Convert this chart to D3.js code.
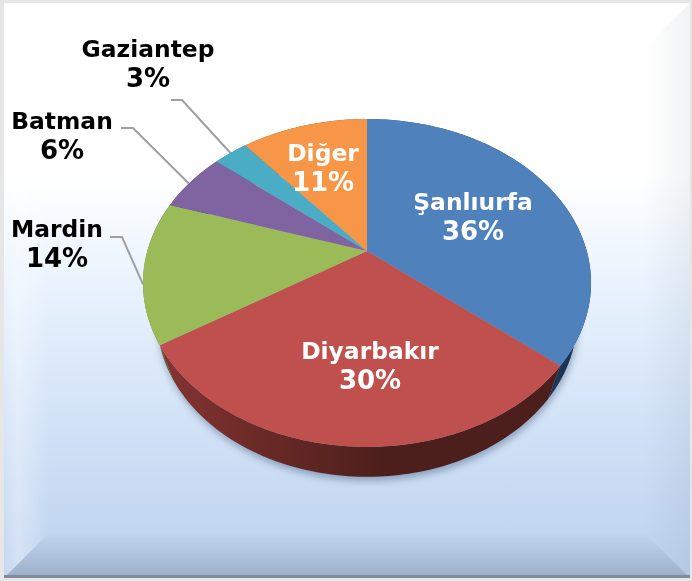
<!DOCTYPE html>
<html>
<head>
<meta charset="utf-8">
<script src="https://cdn.jsdelivr.net/npm/d3@7"></script>
<style>
  html, body { margin: 0; padding: 0; background: #fff; }
  svg { display: block; filter: blur(0.4px); }
  text { font-family: "DejaVu Sans", sans-serif; font-weight: bold; font-size: 23.4px; text-anchor: middle; }
  .pct { font-size: 26px; }
</style>
</head>
<body>
<script>
const cities = ["Şanlıurfa", "Diyarbakır", "Mardin", "Batman", "Gaziantep", "Diğer"];
const shares = [36, 30, 14, 6, 3, 11];
const topColors = ["#4f81bd", "#c0504d", "#9bbb59", "#8064a2", "#4bacc6", "#f79646"];
const wallLight = ["#2a4d78", "#843431", "#6f8a3c", "#5a4674", "#327a8c", "#b36a2e"];
const wallDark = ["#1c3554", "#4d1f1c", "#4c5f28", "#3f3152", "#235663", "#7d4a20"];

const width = 692;
const height = 581;

// where each label sits, plus the leader line for the outside ones
const labelPos = [
  {x: 473, y: 210, fill: "#fff"},
  {x: 370, y: 359, fill: "#fff"},
  {x: 57, y: 237, fill: "#000", knee: [[110, 237], [122, 237]], rimShift: -4.5},
  {x: 62, y: 129, fill: "#000", knee: [[121, 128], [133, 128]], rimShift: -1},
  {x: 148, y: 57, fill: "#000", knee: [[171, 100], [182, 100]], rimShift: 0},
  {x: 323, y: 161, fill: "#fff"}
];
const lineHeight = 29.5;

// the pie is tilted: a circle seen in perspective, so the apex is not the ellipse centre
const tilt = 0.195;
const topFace = {x: 367, y: 251, a: 219.7, b: 157.7};
const baseFace = {x: 367, y: 288, a: 206, b: 152};

function project(face, angle) {
  const X = Math.sin(angle), Y = -Math.cos(angle);
  const w = 1 - tilt * Y;
  return [face.x + face.a * X / w, face.y + face.b * Y / w];
}

function rim(face, a0, a1) {
  const n = Math.max(2, Math.ceil(Math.abs(a1 - a0) / 0.02));
  return d3.range(n + 1).map(i => project(face, a0 + (a1 - a0) * i / n));
}

const line = d3.line();
const pie = d3.pie().sort(null).value(d => d)(shares);

const svg = d3.select("body").append("svg").attr("width", width).attr("height", height);
const defs = svg.append("defs");

function gradient(id, x2, y2, stops) {
  const g = defs.append("linearGradient").attr("id", id)
    .attr("x1", 0).attr("y1", 0).attr("x2", x2).attr("y2", y2);
  stops.forEach(s => g.append("stop").attr("offset", s[0]).attr("stop-color", s[1]).attr("stop-opacity", s[2] === undefined ? 1 : s[2]));
}

gradient("panel", 0, 1, [[0, "#ffffff"], [0.3, "#ffffff"], [0.5, "#e8f2fd"], [0.75, "#d0e1f6"], [1, "#bcd1ed"]]);
gradient("bevel-left", 1, 0, [[0, "#ffffff", 0.12], [0.3, "#ffffff", 0.35], [1, "#ffffff", 0]]);
gradient("bevel-bottom", 0, 1, [[0, "#2c3a4c", 0], [0.9, "#2c3a4c", 0.2], [1, "#2c3a4c", 0.28]]);
gradient("bevel-right", 1, 0, [[0, "#24364f", 0], [1, "#24364f", 0.06]]);

defs.append("filter").attr("id", "soft").attr("x", "-10%").attr("y", "-10%").attr("width", "120%").attr("height", "120%")
  .append("feGaussianBlur").attr("stdDeviation", 3.5);

topColors.forEach((c, i) => {
  gradient("wall" + i, 1, 0, [[0, wallLight[i]], [0.55, wallDark[i]], [1, wallDark[i]]]);
});

// frame and bevels
const px0 = 4, py0 = 3, px1 = 690, py1 = 578, bv = 46;
svg.append("rect").attr("width", width).attr("height", height).attr("fill", "#e6e6e6");
svg.append("rect").attr("x", px0).attr("y", py0).attr("width", px1 - px0).attr("height", py1 - py0).attr("fill", "url(#panel)");
svg.append("path").attr("fill", "url(#bevel-left)")
  .attr("d", line([[px0, py0], [px0 + bv, py0 + bv], [px0 + bv, py1 - bv], [px0, py1]]) + "Z");
svg.append("path").attr("fill", "url(#bevel-right)")
  .attr("d", line([[px1, py0], [px1 - bv, py0 + bv], [px1 - bv, py1 - bv], [px1, py1]]) + "Z");
svg.append("path").attr("fill", "url(#bevel-bottom)")
  .attr("d", line([[px0, py1], [px0 + bv, py1 - bv], [px1 - bv, py1 - bv], [px1, py1]]) + "Z");
svg.append("rect").attr("x", px0).attr("y", py1 - 3).attr("width", px1 - px0).attr("height", 3).attr("fill", "#7f8a9a");

// shadow under the pie
svg.append("path").attr("fill", "#2c4468").attr("opacity", 0.4).attr("filter", "url(#soft)")
  .attr("transform", "translate(1,4)")
  .attr("d", line(rim(baseFace, 0, 2 * Math.PI)) + "Z");

// side walls first, nearest slice last
const wallOrder = [0, 5, 4, 3, 2, 1];
svg.append("g").selectAll("path").data(wallOrder.map(i => pie[i])).join("path")
  .attr("fill", d => `url(#wall${d.index})`)
  .attr("d", d => line(rim(topFace, d.startAngle, d.endAngle).concat(rim(baseFace, d.endAngle, d.startAngle))) + "Z");

// top face
svg.append("g").selectAll("path").data(pie).join("path")
  .attr("fill", d => topColors[d.index])
  .attr("d", d => line([[topFace.x, topFace.y]].concat(rim(topFace, d.startAngle, d.endAngle))) + "Z");

// leader lines
svg.append("g").selectAll("path").data(pie.filter(d => labelPos[d.index].knee)).join("path")
  .attr("fill", "none").attr("stroke", "#a0a0a0").attr("stroke-width", 2)
  .attr("d", d => {
    const p = labelPos[d.index];
    const mid = (d.startAngle + d.endAngle) / 2 + p.rimShift * Math.PI / 180;
    return line(p.knee.concat([project(topFace, mid)]));
  });

// labels
const labels = svg.append("g").selectAll("text").data(pie).join("text")
  .attr("fill", d => labelPos[d.index].fill);
labels.append("tspan").attr("x", d => labelPos[d.index].x).attr("y", d => labelPos[d.index].y)
  .text(d => cities[d.index]);
labels.append("tspan").attr("class", "pct").attr("x", d => labelPos[d.index].x).attr("y", d => labelPos[d.index].y + lineHeight)
  .text(d => d.value + "%");
</script>
</body>
</html>
